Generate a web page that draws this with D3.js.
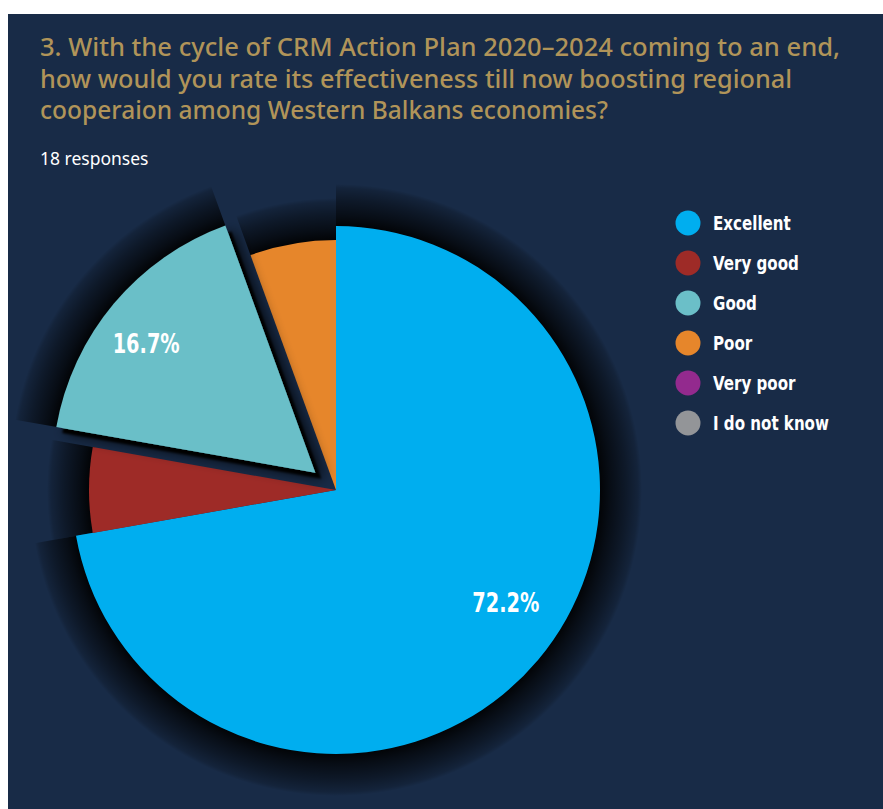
<!DOCTYPE html>
<html>
<head>
<meta charset="utf-8">
<script src="https://cdn.jsdelivr.net/npm/d3@7"></script>
<style>
  body { margin: 0; background: #fff; }
</style>
</head>
<body>
<script>
// Data
var titleLines = [
  "3. With the cycle of CRM Action Plan 2020\u20132024 coming to an end,",
  "how would you rate its effectiveness till now boosting regional",
  "cooperaion among Western Balkans economies?"
];
var subtitle = "18 responses";
var categories = ["Excellent", "Very good", "Good", "Poor", "Very poor", "I do not know"];
var responses = [13, 1, 3, 1, 0, 0];
var colors = ["#00aeef", "#9e2b27", "#6bbfc8", "#e6862b", "#932a8e", "#939598"];

// Sizes
var width = 883, height = 809;
var cx = 336, cy = 490;
// per slice look: radius and explode distance
var sliceStyle = {
  "Excellent": { r: 264, explode: 0 },
  "Very good": { r: 247, explode: 0 },
  "Good": { r: 263, explode: 27 },
  "Poor": { r: 250, explode: 0 },
  "Very poor": { r: 250, explode: 0 },
  "I do not know": { r: 250, explode: 0 }
};
var haloWidth = 42;
var total = d3.sum(responses);
var boldFont = "'DejaVu Sans Condensed', 'Liberation Sans Narrow', 'Arial Narrow', sans-serif";

var svg = d3.select("body").append("svg")
  .attr("width", width)
  .attr("height", height);

svg.append("rect")
  .attr("x", 8).attr("y", 14)
  .attr("width", width - 8).attr("height", height - 14)
  .attr("fill", "#182b47");

var defs = svg.append("defs");

// shadow for the exploded slice
var f = defs.append("filter").attr("id", "sliceShadow")
  .attr("x", "-30%").attr("y", "-30%").attr("width", "160%").attr("height", "160%");
f.append("feGaussianBlur").attr("in", "SourceAlpha").attr("stdDeviation", 7).attr("result", "b2");
f.append("feOffset").attr("in", "b2").attr("dx", 9).attr("dy", 6).attr("result", "o2");
f.append("feComponentTransfer").attr("in", "o2").attr("result", "o2b")
  .append("feFuncA").attr("type", "linear").attr("slope", 0.8);
f.append("feGaussianBlur").attr("in", "SourceAlpha").attr("stdDeviation", 0.8).attr("result", "b1");
f.append("feOffset").attr("in", "b1").attr("dx", 6).attr("dy", 6).attr("result", "o1");
var fm = f.append("feMerge");
fm.append("feMergeNode").attr("in", "o2b");
fm.append("feMergeNode").attr("in", "o1");
fm.append("feMergeNode").attr("in", "SourceGraphic");

// title
svg.append("g").selectAll("text")
  .data(titleLines)
  .enter()
  .append("text")
  .attr("x", 40)
  .attr("y", function(d, i) { return 56 + i * 31.5; })
  .attr("fill", "#b09459")
  .attr("font-family", "'Noto Sans', sans-serif")
  .attr("font-size", 25.5)
  .attr("font-weight", 500)
  .attr("textLength", function(d, i) { return [800, 752, 568][i]; })
  .attr("lengthAdjust", "spacingAndGlyphs")
  .text(function(d) { return d; });

svg.append("text")
  .attr("x", 40).attr("y", 165)
  .attr("fill", "#ffffff")
  .attr("font-family", "'Noto Sans', sans-serif")
  .attr("font-size", 17.5)
  .text(subtitle);

// pie
var pie = d3.pie().sort(null).value(function(d) { return d.value; });
var data = categories.map(function(c, i) { return { name: c, value: responses[i], color: colors[i] }; });
var arcs = pie(data).filter(function(d) { return d.value > 0; });

function offset(d) {
  var st = sliceStyle[d.data.name];
  var a = (d.startAngle + d.endAngle) / 2;
  return [Math.sin(a) * st.explode, -Math.cos(a) * st.explode];
}

var pieG = svg.append("g").attr("transform", "translate(" + cx + "," + cy + ")");

// halo shadows behind each slice
arcs.forEach(function(d, i) {
  var st = sliceStyle[d.data.name];
  var R = st.r + haloWidth;
  var o = offset(d);
  var g = defs.append("radialGradient")
    .attr("id", "halo" + i)
    .attr("gradientUnits", "userSpaceOnUse")
    .attr("cx", 0).attr("cy", 0).attr("r", R);
  g.append("stop").attr("offset", (st.r - 2) / R).attr("stop-color", "#000").attr("stop-opacity", 0.95);
  g.append("stop").attr("offset", (st.r + 10) / R).attr("stop-color", "#000").attr("stop-opacity", 0.7);
  g.append("stop").attr("offset", (st.r + 26) / R).attr("stop-color", "#000").attr("stop-opacity", 0.42);
  g.append("stop").attr("offset", (st.r + 38) / R).attr("stop-color", "#000").attr("stop-opacity", 0.18);
  g.append("stop").attr("offset", 1).attr("stop-color", "#000").attr("stop-opacity", 0);
  pieG.append("path")
    .attr("transform", "translate(" + o[0] + "," + o[1] + ")")
    .attr("d", d3.arc().innerRadius(st.r - 2).outerRadius(R)(d))
    .attr("fill", "url(#halo" + i + ")");
});

// slices, exploded ones last
var ordered = arcs.slice().sort(function(a, b) {
  return sliceStyle[a.data.name].explode - sliceStyle[b.data.name].explode;
});
pieG.selectAll("path.slice")
  .data(ordered)
  .enter()
  .append("path")
  .attr("class", "slice")
  .attr("transform", function(d) { var o = offset(d); return "translate(" + o[0] + "," + o[1] + ")"; })
  .attr("d", function(d) { return d3.arc().innerRadius(0).outerRadius(sliceStyle[d.data.name].r)(d); })
  .attr("fill", function(d) { return d.data.color; })
  .attr("filter", function(d) { return sliceStyle[d.data.name].explode > 0 ? "url(#sliceShadow)" : null; });

// percentage labels
var fmt = d3.format(".1%");
var labelShift = -4.5 * Math.PI / 180;
pieG.selectAll("text.pct")
  .data(arcs.filter(function(d) { return d.value / total > 0.1; }))
  .enter()
  .append("text")
  .attr("class", "pct")
  .attr("transform", function(d) {
    var st = sliceStyle[d.data.name];
    var o = offset(d);
    var a = (d.startAngle + d.endAngle) / 2 + labelShift;
    var rr = st.r * 0.79;
    return "translate(" + (o[0] + Math.sin(a) * rr) + "," + (o[1] - Math.cos(a) * rr + 1) + ")";
  })
  .attr("text-anchor", "middle")
  .attr("fill", "#ffffff")
  .attr("font-family", boldFont)
  .attr("font-weight", "bold")
  .attr("font-size", 27)
  .attr("textLength", 67)
  .attr("lengthAdjust", "spacingAndGlyphs")
  .text(function(d) { return fmt(d.value / total); });

// legend
var legend = svg.append("g").attr("transform", "translate(688,223)");
var item = legend.selectAll("g")
  .data(data)
  .enter()
  .append("g")
  .attr("transform", function(d, i) { return "translate(0," + i * 40 + ")"; });
item.append("circle")
  .attr("r", 12.5)
  .attr("fill", function(d) { return d.color; });
item.append("text")
  .attr("x", 25).attr("y", 7)
  .attr("fill", "#ffffff")
  .attr("font-family", boldFont)
  .attr("font-weight", "bold")
  .attr("font-size", 19.5)
  .text(function(d) { return d.name; })
  .each(function() {
    // squeeze to the narrow look of the original
    var len = this.getComputedTextLength();
    d3.select(this).attr("textLength", len * 0.86).attr("lengthAdjust", "spacingAndGlyphs");
  });
</script>
</body>
</html>
